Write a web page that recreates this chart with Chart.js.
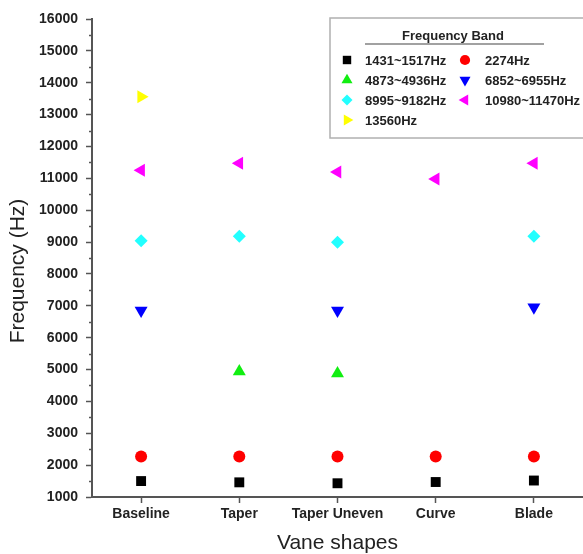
<!DOCTYPE html>
<html>
<head>
<meta charset="utf-8">
<script src="https://cdn.jsdelivr.net/npm/chart.js@4/dist/chart.umd.min.js"></script>
<style>
  html, body { margin: 0; padding: 0; background: #fff; }
  #wrap { width: 583px; height: 554px; }
</style>
</head>
<body>
<div id="wrap"><canvas id="myChart"></canvas></div>
<script>
const shapes = ['Baseline', 'Taper', 'Taper Uneven', 'Curve', 'Blade'];
const bandLabels = ['1431~1517Hz', '2274Hz', '4873~4936Hz', '6852~6955Hz', '8995~9182Hz', '10980~11470Hz', '13560Hz'];

const band1 = [1500, 1460, 1431, 1470, 1517];
const band2 = [2274, 2274, 2274, 2274, 2274];
const band3 = [null, 4936, 4873, null, null];
const band4 = [6852, null, 6852, null, 6955];
const band5 = [9040, 9182, 8995, null, 9182];
const band6 = [11250, 11470, 11200, 10980, 11470];
const band7 = [13560, null, null, null, null];

const yMin = 1000, yMax = 16000, yStep = 1000;

const ctx = document.getElementById('myChart');
const FONT = '"Liberation Sans", Arial, sans-serif';

function mk(label, data, color, style, rot, r) {
    return {
        label: label,
        data: data,
        showLine: false,
        pointStyle: style,
        pointRotation: rot,
        pointRadius: r,
        pointHoverRadius: r,
        pointBackgroundColor: color,
        pointBorderColor: color,
        pointBorderWidth: 0,
        backgroundColor: color,
        borderColor: color
    };
}

// minor ticks on the y axis + rotated y title (sits a bit below centre in the original)
const axisExtras = {
    id: 'axisExtras',
    afterDraw(chart) {
        const c = chart.ctx;
        const ys = chart.scales.y;
        c.save();
        c.strokeStyle = '#555';
        c.lineWidth = 1.5;
        for (let v = yMin + yStep / 2; v < yMax; v += yStep) {
            const py = Math.round(ys.getPixelForValue(v)) + 0.5;
            c.beginPath();
            c.moveTo(ys.right - 3, py);
            c.lineTo(ys.right, py);
            c.stroke();
        }
        c.translate(18, 271);
        c.rotate(-Math.PI / 2);
        c.fillStyle = '#222';
        c.font = '21px ' + FONT;
        c.textAlign = 'center';
        c.textBaseline = 'middle';
        c.fillText('Frequency (Hz)', 0, 0);
        c.restore();
    }
};

// legend box drawn inside the plot, two columns like the original
const bandLegend = {
    id: 'bandLegend',
    afterDraw(chart) {
        const c = chart.ctx;
        c.save();
        c.strokeStyle = '#b0b0b0';
        c.lineWidth = 1.5;
        c.fillStyle = '#fff';
        c.fillRect(330, 18, 260, 120);
        c.strokeRect(330, 18, 260, 120);

        c.fillStyle = '#222';
        c.font = 'bold 13px ' + FONT;
        c.textAlign = 'center';
        c.textBaseline = 'middle';
        c.fillText('Frequency Band', 453, 36);
        c.strokeStyle = '#444';
        c.lineWidth = 1.2;
        c.beginPath();
        c.moveTo(365, 44);
        c.lineTo(544, 44);
        c.stroke();

        const rows = [60, 80, 100, 120];
        chart.data.datasets.forEach(function(ds, i) {
            const col = i % 2, row = Math.floor(i / 2);
            const mx = col ? 465 : 347, tx = col ? 485 : 365;
            const y = rows[row];
            c.fillStyle = ds.pointBackgroundColor;
            c.strokeStyle = ds.pointBackgroundColor;
            Chart.helpers.drawPoint(c, {
                pointStyle: ds.pointStyle,
                rotation: ds.pointRotation,
                radius: ds.pointRadius * 0.85,
                borderWidth: 0
            }, mx, y);
            c.fillStyle = '#222';
            c.textAlign = 'left';
            c.fillText(ds.label, tx, y + 1);
        });
        c.restore();
    }
};

new Chart(ctx, {
    type: 'line',
    data: {
        labels: shapes,
        datasets: [
            mk(bandLabels[0], band1, '#000000', 'rect', 0, 7),
            mk(bandLabels[1], band2, '#ff0000', 'circle', 0, 6),
            mk(bandLabels[2], band3, '#11ee11', 'triangle', 0, 7.5),
            mk(bandLabels[3], band4, '#0000ff', 'triangle', 180, 7.5),
            mk(bandLabels[4], band5, '#22ffff', 'rectRot', 0, 6.5),
            mk(bandLabels[5], band6, '#ff00ff', 'triangle', -90, 7.5),
            mk(bandLabels[6], band7, '#ffff00', 'triangle', 90, 7.5)
        ]
    },
    options: {
        responsive: true,
        maintainAspectRatio: false,
        animation: false,
        layout: { autoPadding: false, padding: { top: 19, right: 0, left: 0, bottom: 0 } },
        plugins: {
            legend: { display: false },
            title: { display: false },
            tooltip: { enabled: false }
        },
        scales: {
            x: {
                offset: true,
                grid: { display: true, drawOnChartArea: false, drawTicks: true, tickLength: 6, tickColor: '#555', tickWidth: 1.5, offset: false },
                border: { display: true, color: '#555', width: 2 },
                ticks: { color: '#222', padding: 3, font: { family: FONT, size: 14, weight: 'bold' }, maxRotation: 0 },
                title: { display: true, text: 'Vane shapes', color: '#222', font: { family: FONT, size: 21, lineHeight: 1 }, padding: { top: 2, bottom: 0 } },
                afterFit(scale) { scale.height = 57; }
            },
            y: {
                min: yMin,
                max: yMax,
                grid: {
                    drawOnChartArea: false, drawTicks: true, tickLength: 6, tickColor: '#555', tickWidth: 1.5
                },
                border: { display: true, color: '#555', width: 2 },
                ticks: {
                    stepSize: yStep,
                    autoSkip: false,
                    color: '#222',
                    padding: 8,
                    font: { family: FONT, size: 14, weight: 'bold' },
                    callback: function(v) { return String(v); }
                },
                title: { display: false },
                afterFit(scale) { scale.width = 92; }
            }
        }
    },
    plugins: [bandLegend, axisExtras]
});
</script>
</body>
</html>
